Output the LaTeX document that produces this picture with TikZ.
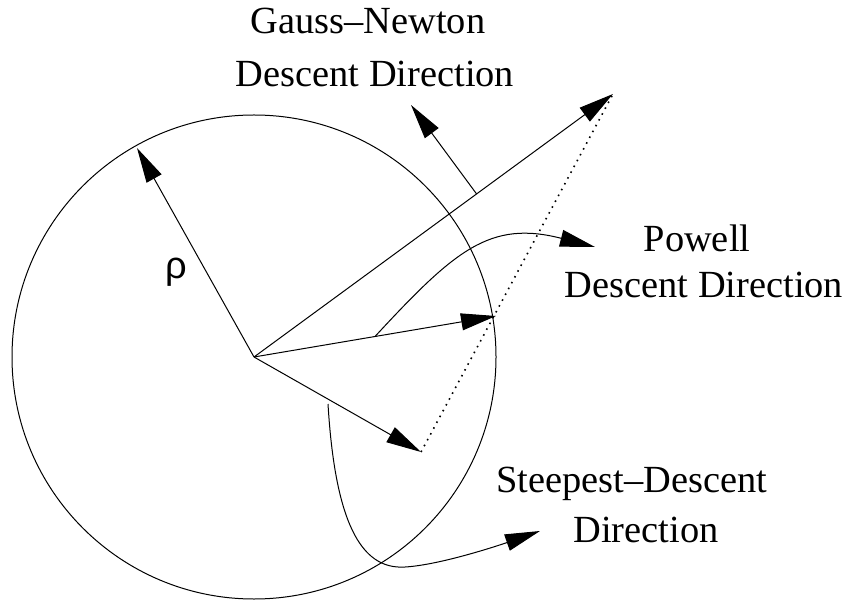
\documentclass[tikz,border=0pt]{standalone}
\usepackage{fontspec}
\setmainfont{Liberation Serif}
\newfontfamily\rhofont{Liberation Sans}
\usetikzlibrary{arrows.meta,calc}

\begin{document}
\begin{tikzpicture}
[x=1pt, y=-1pt, line width=1pt]
\tikzstyle{vec}=[-{Triangle[length=35pt, width=17pt]}]
\tikzstyle{txt}=[anchor=base, inner sep=0pt, font=\fontsize{38.4}{46}\selectfont]
\useasboundingbox (0,0) rectangle (848,601);

\coordinate (O)      at (254,357);
\coordinate (R)      at (137,148);
\coordinate (GN)     at (613,94);
\coordinate (PW)     at (496,316);
\coordinate (SD)     at (421,452);
\coordinate (gnfoot) at ($(O)!0.62!(GN)$);
\coordinate (gnend)  at (411,105);
\coordinate (pwfoot) at ($(O)!0.5!(PW)$);
\coordinate (pwend)  at (595,247);
\coordinate (sdfoot) at (328,404);
\coordinate (sdend)  at (540,531);

\draw (O) circle [radius=242pt];

\draw [vec] (O)--(R);
\draw [vec] (O)--(GN);
\draw [vec] (O)--(PW);
\draw [vec] (O)--(SD);
\draw [line width=1.6pt, dash pattern=on 1.6pt off 5pt] (SD)--(GN);

\draw [vec] (gnfoot)--(gnend);
\draw [vec] (pwfoot) .. controls (455,250) and (490,220) .. (pwend);
\draw [vec] (sdfoot) .. controls (335,520) and (360,570) .. (405,567)
                     .. controls (440,565) and (500,545) .. (sdend);

\node[font=\rhofont\fontsize{38}{46}\selectfont] (rho) at (176,272) {ρ};
\node[txt] (gn1) at (368,34)  {Gauss--Newton};
\node[txt] (gn2) at (375,87)  {Descent Direction};
\node[txt] (pw1) at (697,252) {Powell};
\node[txt] (pw2) at (704,298) {Descent Direction};
\node[txt] (sd1) at (632,492) {Steepest--Descent};
\node[txt] (sd2) at (646,542) {Direction};
\end{tikzpicture}
\end{document}
